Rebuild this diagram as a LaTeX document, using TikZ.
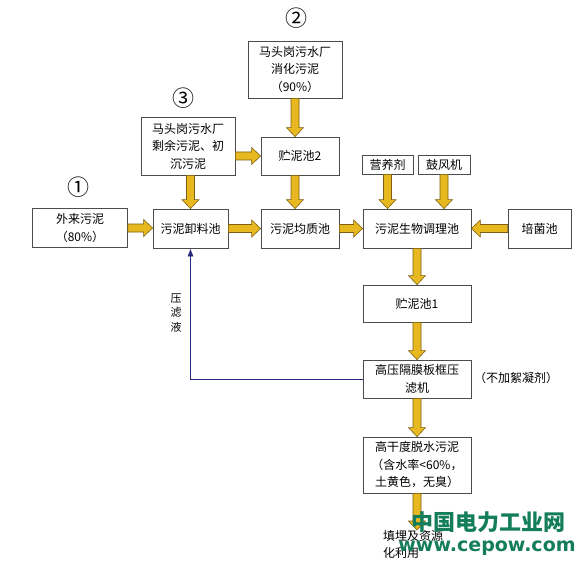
\documentclass[tikz,border=0pt]{standalone}
\usepackage{fontspec}
\setmainfont{Noto Sans CJK SC}
\newfontfamily\wmfont{DejaVu Sans}
\usetikzlibrary{arrows.meta,calc}
\definecolor{ygold}{RGB}{232,184,32}
\definecolor{ybrown}{RGB}{125,95,15}
\definecolor{navyline}{RGB}{40,40,125}
\definecolor{wmgreen}{RGB}{20,125,90}
\begin{document}
\begin{tikzpicture}[x=1pt,y=-1pt,
  box/.style={draw=black!70, line width=0.8pt, fill=white, align=center, inner sep=0pt,
    font=\fontsize{12}{17.5}\selectfont},
  lbl/.style={font=\fontsize{12}{17}\selectfont, inner sep=0pt},
  circ/.style={font=\fontsize{22}{22}\selectfont, inner sep=0pt},
  yarr/.style={draw=ybrown, fill=ygold, line width=0.6pt, line join=miter},
  ydown/.style={yarr, to path={let \p1=(\tikztostart), \p2=(\tikztotarget) in
     (\x1-4pt,\y1) -- (\x1-4pt,\y2+9pt) -- (\x1-8.5pt,\y2+9pt) -- (\x1,\y2)
     -- (\x1+8.5pt,\y2+9pt) -- (\x1+4pt,\y2+9pt) -- (\x1+4pt,\y1) -- cycle}},
  yright/.style={yarr, to path={let \p1=(\tikztostart), \p2=(\tikztotarget) in
     (\x1,\y1-4pt) -- (\x2-9pt,\y1-4pt) -- (\x2-9pt,\y1-8.5pt) -- (\x2,\y1)
     -- (\x2-9pt,\y1+8.5pt) -- (\x2-9pt,\y1+4pt) -- (\x1,\y1+4pt) -- cycle}},
  yleft/.style={yarr, to path={let \p1=(\tikztostart), \p2=(\tikztotarget) in
     (\x1,\y1-4pt) -- (\x2+9pt,\y1-4pt) -- (\x2+9pt,\y1-8.5pt) -- (\x2,\y1)
     -- (\x2+9pt,\y1+8.5pt) -- (\x2+9pt,\y1+4pt) -- (\x1,\y1+4pt) -- cycle}}
]
\useasboundingbox[fill=white] (0,0) rectangle (588,577);

% boxes
\node[box, minimum width=95pt, minimum height=39pt] (ext) at (80,228) {外来污泥\\（80\%）};
\node[box, minimum width=75pt, minimum height=39pt] (unload) at (190.5,228.5) {污泥卸料池};
\node[box, minimum width=94pt, minimum height=58pt] (b3) at (188,146) {马头岗污水厂\\剩余污泥、初\\沉污泥};
\node[box, minimum width=94pt, minimum height=57pt] (b2) at (295,69.5) {马头岗污水厂\\消化污泥\\（90\%）};
\node[box, minimum width=78pt, minimum height=38pt] (pool2) at (300,156) {贮泥池2};
\node[box, minimum width=78pt, minimum height=39pt] (homog) at (300,228.5) {污泥均质池};
\node[box, minimum width=51pt, minimum height=19pt] (nutr) at (387.5,164.5) {营养剂};
\node[box, minimum width=52pt, minimum height=19pt] (blower) at (444,164.5) {鼓风机};
\node[box, minimum width=108pt, minimum height=39pt] (bio) at (417,228.5) {污泥生物调理池};
\node[box, minimum width=63pt, minimum height=39pt] (culture) at (539.5,228.5) {培菌池};
\node[box, minimum width=108pt, minimum height=37pt] (pool1) at (417,303.5) {贮泥池1};
\node[box, minimum width=108pt, minimum height=38pt] (press) at (417,379) {高压隔膜板框压\\滤机};
\node[box, minimum width=108pt, minimum height=56pt] (dry) at (417,465) {高干度脱水污泥\\（含水率<60\%，\\土黄色，无臭）};
\coordinate (endpt) at (417,530);

% labels
\node[circ] (c1) at (78,187) {①};
\node[circ] (c2) at (296,18) {②};
\node[circ] (c3) at (183,98) {③};
\node[lbl, align=center, font=\fontsize{11}{14.5}\selectfont] (filt) at (176,313) {压\\滤\\液};
\node[lbl] (noflo) at (516,378) {（不加絮凝剂）};
\node[lbl, align=left, anchor=north west] (fin) at (383,530) {填埋及资源\\化利用};

% yellow arrows
\draw[yright] (ext.east) to (unload.west);
\draw[yright] (unload.east) to (homog.west);
\draw[yright] (homog.east) to (bio.west);
\draw[yleft] (culture.west) to (bio.east);
\draw[yright] (b3.east |- pool2.west) to (pool2.west);
\draw[ydown] (unload.north |- b3.south) to (unload.north);
\draw[ydown] (b2.south) to (pool2.north);
\draw[ydown] (pool2.south -| b2.south) to (homog.north);
\draw[ydown] (nutr.south) to (bio.north);
\draw[ydown] (blower.south) to (bio.north);
\draw[ydown] (bio.south) to (pool1.north);
\draw[ydown] (pool1.south) to (press.north);
\draw[ydown] (press.south) to (dry.north);
\draw[ydown] (dry.south) to (endpt);

% filtrate return
\draw[navyline, line width=0.8pt, -{Latex[length=8pt,width=6pt]}] (press.west) -| (unload.south);

% watermark
\node[text=wmgreen, inner sep=0pt, font=\fontsize{22}{22}\selectfont\bfseries] (wm1) at (488,522) {中国电力工业网};
\node[text=wmgreen, inner sep=0pt, font=\wmfont\bfseries\fontsize{19}{19}\selectfont] (wm2) at (487,548) {www.cepow.com};
\end{tikzpicture}
\end{document}
